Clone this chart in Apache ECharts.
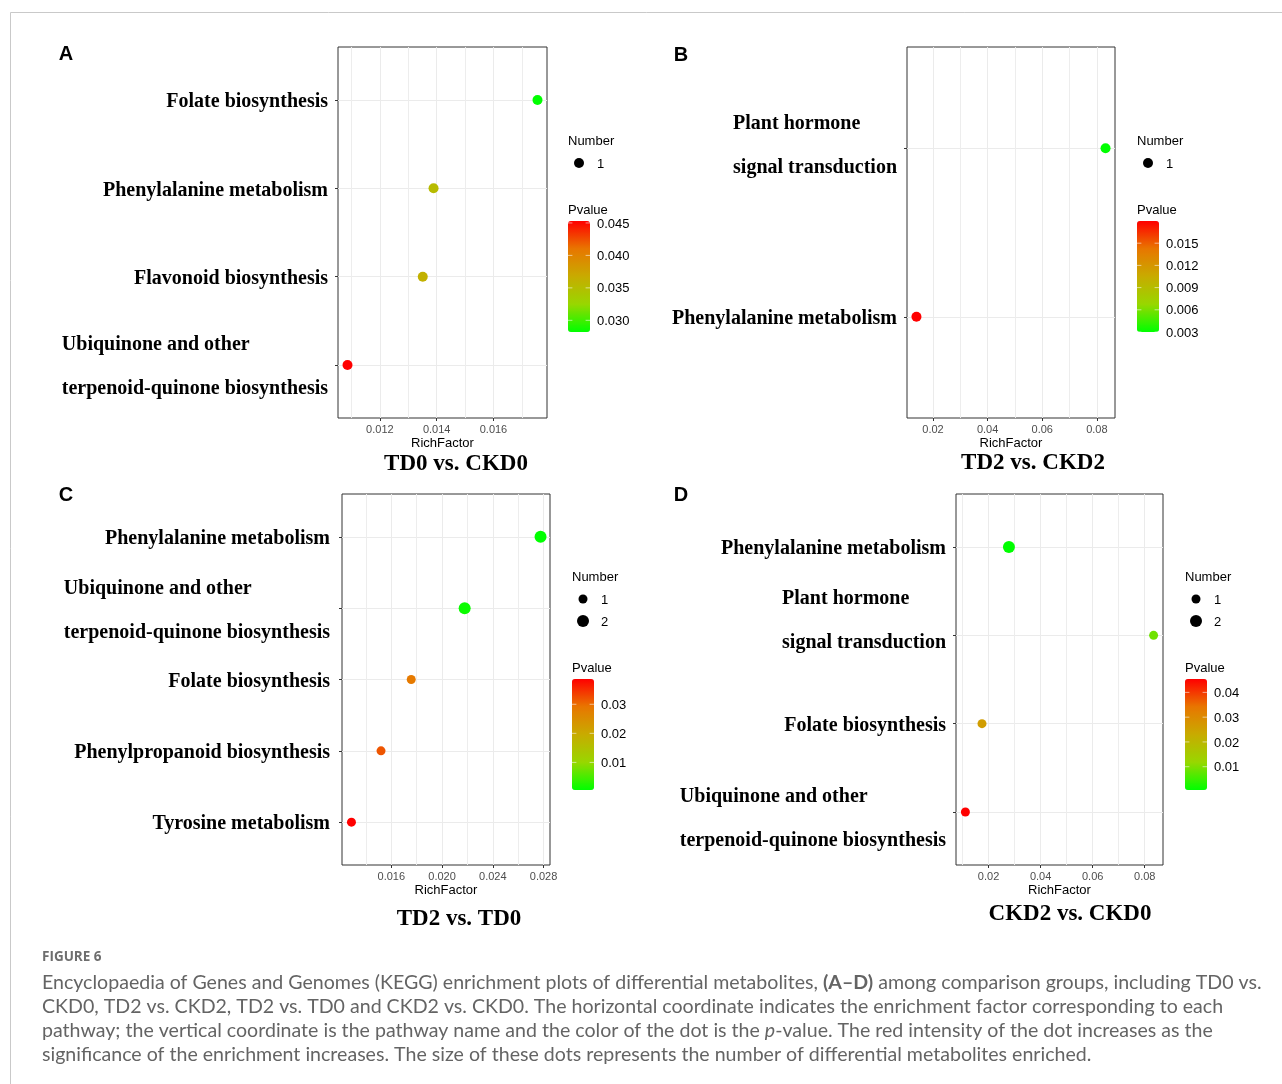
<!DOCTYPE html>
<html>
<head>
<meta charset="utf-8">
<title>KEGG enrichment</title>
<script src="https://cdn.jsdelivr.net/npm/echarts@6/dist/echarts.min.js"></script>
<style>
  html, body { margin: 0; padding: 0; background: #fff; }
  #main { width: 1282px; height: 1084px; }
</style>
</head>
<body>
<div id="main"></div>
<script>
// ---- data (pathways listed top to bottom) ----
// A: TD0 vs. CKD0
const termsA = ['Folate biosynthesis', 'Phenylalanine metabolism', 'Flavonoid biosynthesis', 'Ubiquinone and other\nterpenoid-quinone biosynthesis'];
const richA = [0.01755, 0.01389, 0.01351, 0.01086];
const pvalA = [0.0282, 0.0352, 0.0362, 0.0453];
const numA = [1, 1, 1, 1];
const xTicksA = [0.012, 0.014, 0.016];
const pTicksA = [0.030, 0.035, 0.040, 0.045];

// B: TD2 vs. CKD2
const termsB = ['Plant hormone\nsignal transduction', 'Phenylalanine metabolism'];
const richB = [0.08318, 0.01393];
const pvalB = [0.0030, 0.0180];
const numB = [1, 1];
const xTicksB = [0.02, 0.04, 0.06, 0.08];
const pTicksB = [0.003, 0.006, 0.009, 0.012, 0.015];

// C: TD2 vs. TD0
const termsC = ['Phenylalanine metabolism', 'Ubiquinone and other\nterpenoid-quinone biosynthesis', 'Folate biosynthesis', 'Phenylpropanoid biosynthesis', 'Tyrosine metabolism'];
const richC = [0.02776, 0.02178, 0.01757, 0.01519, 0.01286];
const pvalC = [0.0005, 0.0012, 0.0285, 0.0318, 0.0387];
const numC = [2, 2, 1, 1, 1];
const xTicksC = [0.016, 0.020, 0.024, 0.028];
const pTicksC = [0.01, 0.02, 0.03];

// D: CKD2 vs. CKD0
const termsD = ['Phenylalanine metabolism', 'Plant hormone\nsignal transduction', 'Folate biosynthesis', 'Ubiquinone and other\nterpenoid-quinone biosynthesis'];
const richD = [0.02782, 0.08340, 0.01747, 0.01110];
const pvalD = [0.0006, 0.0088, 0.0260, 0.0454];
const numD = [2, 1, 1, 1];
const xTicksD = [0.02, 0.04, 0.06, 0.08];
const pTicksD = [0.01, 0.02, 0.03, 0.04];

const titles = ['TD0 vs. CKD0', 'TD2 vs. CKD2', 'TD2 vs. TD0', 'CKD2 vs. CKD0'];
const letters = ['A', 'B', 'C', 'D'];

const captionHead = 'FIGURE 6';
const captionLines = [
  [['n', 'Encyclopaedia of Genes and Genomes (KEGG) enrichment plots of differential metabolites, '], ['b', '(A\u2013D)'], ['n', ' among comparison groups, including TD0 vs.']],
  [['n', 'CKD0, TD2 vs. CKD2, TD2 vs. TD0 and CKD2 vs. CKD0. The horizontal coordinate indicates the enrichment factor corresponding to each']],
  [['n', 'pathway; the vertical coordinate is the pathway name and the color of the dot is the '], ['i', 'p'], ['n', '-value. The red intensity of the dot increases as the']],
  [['n', 'significance of the enrichment increases. The size of these dots represents the number of differential metabolites enriched.']]
];

const panels = [
  { terms: termsA, rich: richA, pval: pvalA, num: numA, xTicks: xTicksA, pTicks: pTicksA },
  { terms: termsB, rich: richB, pval: pvalB, num: numB, xTicks: xTicksB, pTicks: pTicksB },
  { terms: termsC, rich: richC, pval: pvalC, num: numC, xTicks: xTicksC, pTicks: pTicksC },
  { terms: termsD, rich: richD, pval: pvalD, num: numD, xTicks: xTicksD, pTicks: pTicksD }
];

// ---- layout / style ----
const SANS = 'Liberation Sans';
const SERIF = 'Liberation Serif';
const pColors = ['#00ff00', '#98d700', '#c8ab00', '#e87600', '#ff0000']; // low -> high
const LABEL_SHIFT = 2; // pathway labels sit a little below their tick
const layout = [
  { left: 338, top: 47, width: 209, height: 371, legX: 568, numY: 141, margin: 10, xDec: 3, pDec: 3, letter: [66, 53], title: [456, 462], sizes: { 1: 10 }, pads: {} },
  { left: 907, top: 47, width: 208, height: 371, legX: 1137, numY: 141, margin: 10, xDec: 2, pDec: 3, letter: [681, 54], title: [1033, 461], sizes: { 1: 10 }, pads: { 0: -4 } },
  { left: 342, top: 494, width: 208, height: 371, legX: 572, numY: 577, margin: 12, xDec: 3, pDec: 2, letter: [66, 494], title: [459, 917], sizes: { 1: 9, 2: 12 }, pads: { 1: 1 } },
  { left: 956, top: 494, width: 207, height: 371, legX: 1185, numY: 577, margin: 10, xDec: 2, pDec: 2, letter: [681, 494], title: [1070, 912], sizes: { 1: 9, 2: 12 }, pads: { 1: -17, 3: 5 } }
];
const CB_W = 22, CB_H = 111;

// ggplot-like 5% expansion of a continuous range
function expand(arr) {
  const lo = Math.min(...arr), hi = Math.max(...arr);
  const pad = (hi - lo) * 0.05;
  return [lo - pad, hi + pad];
}

const grids = [], xMain = [], xMinor = [], yAxes = [], series = [], visualMaps = [], graphics = [];

graphics.push({
  type: 'rect', z: 0, silent: true,
  shape: { x: 10.5, y: 12.5, width: 1300, height: 1100 },
  style: { fill: 'none', stroke: '#c9c9c9', lineWidth: 1 }
});

panels.forEach((p, i) => {
  const L = layout[i];
  const n = p.terms.length;
  const [xMin, xMax] = expand(p.rich);
  const pMin = Math.min(...p.pval), pMax = Math.max(...p.pval);

  // minor grid lines half-way between the major ones
  const step = p.xTicks[1] - p.xTicks[0];
  const minors = [];
  for (let v = p.xTicks[0] - step / 2; v < xMax; v += step) {
    if (v > xMin) minors.push(+v.toFixed(6));
  }

  grids.push({ left: L.left, top: L.top, width: L.width, height: L.height, show: true, borderColor: '#333', borderWidth: 1 });

  xMain.push({
    type: 'value', gridIndex: i, min: xMin, max: xMax,
    name: 'RichFactor', nameLocation: 'middle', nameGap: 19,
    nameTextStyle: { fontFamily: SANS, fontSize: 13, color: '#000' },
    axisLine: { show: false },
    axisTick: { show: true, length: 3, lineStyle: { color: '#333' }, customValues: p.xTicks },
    axisLabel: { customValues: p.xTicks, margin: 6, fontFamily: SANS, fontSize: 11, color: '#4d4d4d', formatter: v => v.toFixed(L.xDec) },
    splitLine: { show: true, lineStyle: { color: '#ebebeb', width: 1 } }
  });
  xMinor.push({
    type: 'value', gridIndex: i, min: xMin, max: xMax, position: 'bottom',
    axisLine: { show: false },
    axisTick: { show: false, customValues: minors },
    axisLabel: { show: false },
    splitLine: { show: true, lineStyle: { color: '#ededed', width: 1 } }
  });

  // pathway labels: lines left-aligned inside a right-aligned block,
  // an empty spacer line moves the block up or down when needed
  const yPos = p.terms.map((t, j) => n - j);
  const shifts = p.terms.map((t, j) => LABEL_SHIFT + (L.pads[j] || 0));
  const richStyles = { t: { fontFamily: SERIF, fontWeight: 'bold', fontSize: 20, color: '#000', lineHeight: 44, align: 'left' } };
  shifts.forEach((s, j) => { richStyles['g' + j] = { fontSize: 1, lineHeight: Math.abs(s) * 2, align: 'left' }; });
  yAxes.push({
    type: 'value', gridIndex: i, min: 0.4, max: n + 0.6,
    axisLine: { show: false },
    axisTick: { show: true, length: 3, lineStyle: { color: '#333' }, customValues: yPos },
    axisLabel: {
      customValues: yPos, margin: L.margin, rich: richStyles,
      formatter: v => {
        const j = n - Math.round(v);
        const lines = p.terms[j].split('\n').map(s => '{t|' + s + '}');
        const s = shifts[j];
        if (s < 0) lines.push('{g' + j + '| }');
        if (s > 0) lines.unshift('{g' + j + '| }');
        return lines.join('\n');
      }
    },
    splitLine: { show: true, lineStyle: { color: '#ebebeb', width: 1 } }
  });

  series.push({
    type: 'scatter', xAxisIndex: i, yAxisIndex: i, z: 5,
    data: p.terms.map((t, j) => [p.rich[j], n - j, p.pval[j], p.num[j]]),
    symbolSize: d => L.sizes[d[3]],
    itemStyle: { opacity: 1 }
  });

  // Number legend
  const nums = [...new Set(p.num)].sort((a, b) => a - b);
  graphics.push({ type: 'text', x: L.legX, y: L.numY, style: { text: 'Number', font: '13px ' + SANS, fill: '#000', align: 'left', verticalAlign: 'middle' } });
  nums.forEach((k, m) => {
    const y = L.numY + 22 + m * 22;
    graphics.push({ type: 'circle', shape: { cx: L.legX + 11, cy: y, r: L.sizes[k] / 2 }, style: { fill: '#000' } });
    graphics.push({ type: 'text', x: L.legX + 29, y: y + 1, style: { text: String(k), font: '13px ' + SANS, fill: '#000', align: 'left', verticalAlign: 'middle' } });
  });

  // Pvalue colour bar
  const pY = L.numY + 22 + (nums.length - 1) * 22 + 46;
  const cbTop = pY + 12;
  graphics.push({ type: 'text', x: L.legX, y: pY + 1, style: { text: 'Pvalue', font: '13px ' + SANS, fill: '#000', align: 'left', verticalAlign: 'middle' } });
  visualMaps.push({
    type: 'continuous', seriesIndex: i, dimension: 2, min: pMin, max: pMax,
    left: L.legX, top: cbTop, itemWidth: CB_W, itemHeight: CB_H, padding: 0,
    calculable: false, hoverLink: false, text: null,
    inRange: { color: pColors }
  });
  p.pTicks.forEach(v => {
    const y = cbTop + (pMax - v) / (pMax - pMin) * CB_H;
    graphics.push({ type: 'text', x: L.legX + 29, y: y + 1, style: { text: v.toFixed(L.pDec), font: '13px ' + SANS, fill: '#000', align: 'left', verticalAlign: 'middle' } });
    graphics.push({ type: 'line', z: 20, shape: { x1: L.legX, y1: y, x2: L.legX + 4.4, y2: y }, style: { stroke: 'rgba(255,255,255,0.7)', lineWidth: 0.8 } });
    graphics.push({ type: 'line', z: 20, shape: { x1: L.legX + CB_W - 4.4, y1: y, x2: L.legX + CB_W, y2: y }, style: { stroke: 'rgba(255,255,255,0.7)', lineWidth: 0.8 } });
  });

  // panel letter and comparison title
  graphics.push({ type: 'text', x: L.letter[0], y: L.letter[1] + 1, style: { text: letters[i], font: 'bold 20px ' + SANS, fill: '#000', align: 'center', verticalAlign: 'middle' } });
  graphics.push({ type: 'text', x: L.title[0], y: L.title[1] + 2, style: { text: titles[i], font: 'bold 23px ' + SERIF, fill: '#000', align: 'center', verticalAlign: 'middle' } });
});

// caption: fit the first line to the reference width
const CAP_FONT = 'Lato';
const ctx = document.createElement('canvas').getContext('2d');
ctx.font = '18px ' + CAP_FONT;
const capSize = 18 * 1220 / ctx.measureText(captionLines[0].map(s => s[1]).join('')).width;
const capColor = '#646464';
graphics.push({ type: 'text', x: 42, y: 957, style: { text: captionHead, font: 'bold 13.5px "Open Sans"', fill: '#6e6e6e', align: 'left', verticalAlign: 'middle' } });
graphics.push({
  type: 'text', x: 42, y: 971,
  style: {
    text: captionLines.map(line => line.map(s => '{' + s[0] + '|' + s[1] + '}').join('')).join('\n'),
    align: 'left', verticalAlign: 'top',
    rich: {
      n: { fontFamily: CAP_FONT, fontSize: capSize, fill: capColor, lineHeight: 24 },
      b: { fontFamily: CAP_FONT, fontSize: capSize, fontWeight: 'bold', fill: capColor, lineHeight: 24 },
      i: { fontFamily: CAP_FONT, fontSize: capSize, fontStyle: 'italic', fill: capColor, lineHeight: 24 }
    }
  }
});

const chart = echarts.init(document.getElementById('main'));
chart.setOption({
  backgroundColor: '#fff',
  animation: false,
  grid: grids,
  xAxis: xMain.concat(xMinor),
  yAxis: yAxes,
  visualMap: visualMaps,
  series: series,
  graphic: { elements: graphics }
});
</script>
</body>
</html>
